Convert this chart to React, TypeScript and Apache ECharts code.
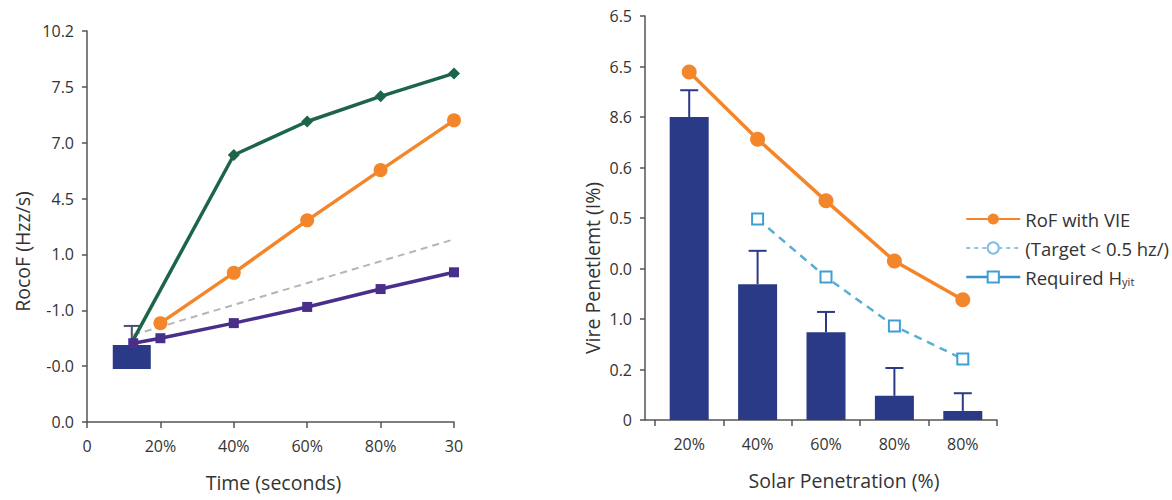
import React, { useEffect, useRef } from "react";
import * as echarts from "echarts";

// ---------- Left chart data ----------
const leftXLabels = ["0", "20%", "40%", "60%", "80%", "30"];
const leftYLabels = ["0.0", "-0.0", "-1.0", "1.0", "4.5", "7.0", "7.5", "10.2"];
const greenSeries: [number, number][] = [
  [0.63, 1.47],
  [2, 4.78],
  [3, 5.38],
  [4, 5.83],
  [5, 6.24],
];
const orangeLeft: [number, number][] = [
  [1, 1.77],
  [2, 2.67],
  [3, 3.61],
  [4, 4.51],
  [5, 5.4],
];
const purpleSeries: [number, number][] = [
  [0.63, 1.41],
  [1, 1.5],
  [2, 1.77],
  [3, 2.06],
  [4, 2.38],
  [5, 2.68],
];
const grayTrend: [number, number][] = [
  [0.63, 1.56],
  [5, 3.27],
];
// [x, low, high, errorTop]
const leftBox: [number, number, number, number][] = [[0.61, 0.95, 1.38, 1.72]];

// ---------- Right chart data ----------
const rightCats = ["20%", "40%", "60%", "80%", "80%"];
const rightYLabels = ["0", "0.2", "1.0", "0.0", "0.5", "0.6", "8.6", "6.5", "6.5"];
const barValues = [6.0, 2.69, 1.74, 0.48, 0.18];
const barErrTop = [6.53, 3.35, 2.14, 1.03, 0.53];
const rofValues = [6.89, 5.56, 4.34, 3.15, 2.38];
const requiredValues = [null, 3.98, 2.83, 1.86, 1.21];

const NAVY = "#2b3a86";
const ORANGE = "#f3862a";
const GREEN = "#1d6549";
const PURPLE = "#4a2e8c";
const LBLUE = "#3f9fd4";
const AXIS = "#555";
const TXT = "#333";
const FONT = "'Open Sans', 'Noto Sans', sans-serif";

export default function App() {
  const ref = useRef<HTMLDivElement>(null);

  useEffect(() => {
    if (!ref.current) return;
    const chart = echarts.init(ref.current, undefined, { renderer: "svg" });

    const axisLineStyle = { lineStyle: { color: AXIS, width: 1.5 } };
    const tickStyle = { show: true, length: 6, lineStyle: { color: AXIS, width: 1.5 } };
    const labelStyle = { color: TXT, fontSize: 16, fontFamily: FONT };
    const nameStyle = { color: TXT, fontSize: 19.5, fontFamily: FONT };

    const option: any = {
      animation: false,
      backgroundColor: "#fff",
      textStyle: { fontFamily: FONT },
      grid: [
        { left: 87, top: 31, width: 367, height: 391 },
        { left: 655, top: 16, width: 342, height: 404 },
      ],
      xAxis: [
        {
          gridIndex: 0,
          type: "value",
          min: 0,
          max: 5,
          interval: 1,
          splitLine: { show: false },
          axisLine: axisLineStyle,
          axisTick: tickStyle,
          axisLabel: {
            ...labelStyle,
            margin: 16,
            formatter: (v: number) => leftXLabels[Math.round(v)] ?? "",
          },
          name: "Time (seconds)",
          nameLocation: "middle",
          nameGap: 50,
          nameTextStyle: { ...nameStyle, padding: [0, 0, 0, 6] },
        },
        {
          gridIndex: 1,
          type: "category",
          data: rightCats,
          axisLine: axisLineStyle,
          axisTick: tickStyle,
          axisLabel: {
            ...labelStyle,
            margin: 16,
            formatter: (_v: string, i: number) => rightCats[i],
          },
          name: "Solar Penetration (%)",
          nameLocation: "middle",
          nameGap: 50,
          nameTextStyle: { ...nameStyle, padding: [0, 0, 0, 36] },
        },
      ],
      yAxis: [
        {
          gridIndex: 0,
          type: "value",
          min: 0,
          max: 7,
          interval: 1,
          splitLine: { show: false },
          axisLine: { show: true, ...axisLineStyle },
          axisTick: { ...tickStyle, length: 5 },
          axisLabel: {
            ...labelStyle,
            margin: 13,
            formatter: (v: number) => leftYLabels[Math.round(v)] ?? "",
          },
          name: "RocoF (Hzz/s)",
          nameLocation: "middle",
          nameGap: 55,
          nameTextStyle: { ...nameStyle, padding: [0, 50, 0, 0] },
        },
        {
          gridIndex: 1,
          type: "value",
          min: 0,
          max: 8,
          interval: 1,
          offset: 10,
          splitLine: { show: false },
          axisLine: { show: true, ...axisLineStyle },
          axisTick: { ...tickStyle, length: 5 },
          axisLabel: {
            ...labelStyle,
            margin: 13,
            formatter: (v: number) => rightYLabels[Math.round(v)] ?? "",
          },
          name: "Vire Penetlemt (I%)",
          nameLocation: "middle",
          nameGap: 43,
          nameTextStyle: { ...nameStyle, padding: [0, 100, 0, 0] },
        },
      ],
      legend: {
        orient: "vertical",
        left: 960,
        top: 203,
        itemWidth: 54,
        itemHeight: 14,
        itemGap: 7,
        textStyle: {
          color: TXT,
          fontSize: 18.5,
          fontFamily: FONT,
          lineHeight: 22,
          rich: {
            sub: { fontSize: 11, fontFamily: FONT, color: TXT, padding: [9, 0, 0, 0] },
          },
        },
        formatter: (name: string) => (name === "Required H" ? "Required H{sub|yit}" : name),
        data: [
          { name: "RoF with VIE" },
          { name: "(Target < 0.5 hz/)" },
          { name: "Required H", lineStyle: { type: "solid", color: "#3a8fcf", width: 2.5 } },
        ],
      },
      graphic: [
        {
          type: "line",
          shape: { x1: 645, y1: 420, x2: 655, y2: 420 },
          style: { stroke: AXIS, lineWidth: 1.5 },
        },
      ],
      series: [
        // ---- left chart ----
        {
          type: "custom",
          xAxisIndex: 0,
          yAxisIndex: 0,
          z: 1,
          data: leftBox,
          encode: { x: 0, y: [1, 2, 3] },
          renderItem: (_p: any, api: any) => {
            const x = api.value(0);
            const lo = api.coord([x, api.value(1)]);
            const hi = api.coord([x, api.value(2)]);
            const er = api.coord([x, api.value(3)]);
            const w = 38;
            return {
              type: "group",
              children: [
                {
                  type: "line",
                  shape: { x1: hi[0], y1: hi[1], x2: er[0], y2: er[1] },
                  style: { stroke: "#4b4f70", lineWidth: 2 },
                },
                {
                  type: "line",
                  shape: { x1: er[0] - 8, y1: er[1], x2: er[0] + 8, y2: er[1] },
                  style: { stroke: "#4b4f70", lineWidth: 2 },
                },
                {
                  type: "rect",
                  shape: { x: lo[0] - w / 2, y: hi[1], width: w, height: lo[1] - hi[1] },
                  style: { fill: NAVY },
                },
              ],
            };
          },
        },
        {
          type: "line",
          name: "trend",
          xAxisIndex: 0,
          yAxisIndex: 0,
          data: grayTrend,
          showSymbol: false,
          lineStyle: { color: "#b5b5b5", width: 2, type: [7, 5] },
          z: 2,
        },
        {
          type: "line",
          name: "green",
          xAxisIndex: 0,
          yAxisIndex: 0,
          data: greenSeries.map((d, i) => (i === 0 ? { value: d, symbol: "none" } : d)),
          symbol: "diamond",
          symbolSize: 12,
          itemStyle: { color: GREEN },
          lineStyle: { color: GREEN, width: 3.5 },
          z: 3,
        },
        {
          type: "line",
          name: "orangeLeft",
          xAxisIndex: 0,
          yAxisIndex: 0,
          data: orangeLeft,
          symbol: "circle",
          symbolSize: 14,
          itemStyle: { color: ORANGE },
          lineStyle: { color: ORANGE, width: 3.5 },
          z: 3,
        },
        {
          type: "line",
          name: "purple",
          xAxisIndex: 0,
          yAxisIndex: 0,
          data: purpleSeries,
          symbol: "rect",
          symbolSize: 10,
          itemStyle: { color: PURPLE },
          lineStyle: { color: PURPLE, width: 3.5 },
          z: 4,
        },
        // ---- right chart ----
        {
          type: "bar",
          name: "bars",
          xAxisIndex: 1,
          yAxisIndex: 1,
          data: barValues,
          barWidth: 39,
          itemStyle: { color: NAVY },
          z: 2,
        },
        {
          type: "custom",
          name: "errors",
          xAxisIndex: 1,
          yAxisIndex: 1,
          z: 3,
          data: barValues.map((v, i) => [i, v, barErrTop[i]]),
          encode: { x: 0, y: [1, 2] },
          renderItem: (_p: any, api: any) => {
            const i = api.value(0);
            const lo = api.coord([i, api.value(1)]);
            const hi = api.coord([i, api.value(2)]);
            return {
              type: "group",
              children: [
                {
                  type: "line",
                  shape: { x1: lo[0], y1: lo[1], x2: hi[0], y2: hi[1] },
                  style: { stroke: NAVY, lineWidth: 2 },
                },
                {
                  type: "line",
                  shape: { x1: hi[0] - 9, y1: hi[1], x2: hi[0] + 9, y2: hi[1] },
                  style: { stroke: NAVY, lineWidth: 2 },
                },
              ],
            };
          },
        },
        {
          type: "line",
          name: "RoF with VIE",
          xAxisIndex: 1,
          yAxisIndex: 1,
          data: rofValues,
          symbol: "circle",
          symbolSize: 15,
          itemStyle: { color: ORANGE },
          lineStyle: { color: ORANGE, width: 3.5 },
          z: 5,
        },
        {
          type: "line",
          name: "(Target < 0.5 hz/)",
          xAxisIndex: 1,
          yAxisIndex: 1,
          data: [],
          symbol: "emptyCircle",
          symbolSize: 8,
          itemStyle: { color: "#7fbfe3", borderColor: "#5aaedb", borderWidth: 2 },
          lineStyle: { color: "#8cc3e3", width: 2, type: [4, 4] },
        },
        {
          type: "line",
          name: "Required H",
          xAxisIndex: 1,
          yAxisIndex: 1,
          data: requiredValues,
          symbol: "emptyRect",
          symbolSize: 11,
          itemStyle: { color: LBLUE, borderColor: LBLUE, borderWidth: 2.5 },
          lineStyle: { color: "#5aaed6", width: 2.5, type: [8, 6] },
          z: 4,
        },
      ],
    };

    chart.setOption(option);
    return () => chart.dispose();
  }, []);

  return (
    <div
      ref={ref}
      style={{ position: "fixed", left: 0, top: 0, width: 1172, height: 500, background: "#fff" }}
    />
  );
}
